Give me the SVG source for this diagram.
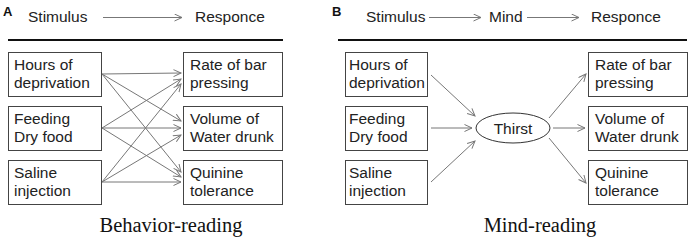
<svg xmlns="http://www.w3.org/2000/svg" width="697" height="246" viewBox="0 0 697 246">
<style>
.t{font-family:"Liberation Sans",Arial,sans-serif;font-size:15.5px;fill:#222}
.h{font-family:"Liberation Sans",Arial,sans-serif;font-size:15.5px;fill:#222}
.lab{font-family:"Liberation Sans",Arial,sans-serif;font-size:13px;font-weight:bold;fill:#111}
.cap{font-family:"Liberation Serif","Times New Roman",serif;font-size:20.5px;fill:#111;text-anchor:middle}
.box{fill:#fff;stroke:#444;stroke-width:1}
.c{stroke:#777;stroke-width:1;fill:none;marker-end:url(#ah)}
.rule{stroke:#111;stroke-width:2}
</style>
<defs>
<marker id="ah" markerWidth="10" markerHeight="10" refX="8" refY="4" orient="auto" markerUnits="userSpaceOnUse">
<path d="M0.5,0.5 L8,4 L0.5,7.5" fill="none" stroke="#777" stroke-width="1"/>
</marker>
</defs>
<rect width="697" height="246" fill="#fff"/>

<!-- Panel A header -->
<g id="headerA">
<text class="lab" x="3" y="16">A</text>
<text class="h" x="28" y="22">Stimulus</text>
<line class="c" x1="103" y1="17.5" x2="182" y2="17.5"/>
<text class="h" x="195" y="22">Responce</text>
<line class="rule" x1="8" y1="40" x2="283" y2="40"/>
</g>

<!-- Panel B header -->
<g id="headerB">
<text class="lab" x="332" y="16">B</text>
<text class="h" x="366" y="22">Stimulus</text>
<line class="c" x1="429" y1="17.5" x2="481" y2="17.5"/>
<text class="h" x="489" y="22">Mind</text>
<line class="c" x1="527" y1="17.5" x2="579" y2="17.5"/>
<text class="h" x="591" y="22">Responce</text>
<line class="rule" x1="338" y1="40" x2="687" y2="40"/>
</g>

<!-- Panel A nodes -->
<g id="a-hours"><rect class="box" x="8.5" y="52.5" width="93" height="44"/><text class="t" x="14" y="70">Hours of</text><text class="t" x="14" y="88">deprivation</text></g>
<g id="a-feeding"><rect class="box" x="8.5" y="106.5" width="93" height="44"/><text class="t" x="14" y="124">Feeding</text><text class="t" x="14" y="142">Dry food</text></g>
<g id="a-saline"><rect class="box" x="8.5" y="160.5" width="93" height="44"/><text class="t" x="14" y="178">Saline</text><text class="t" x="14" y="196">injection</text></g>
<g id="a-rate"><rect class="box" x="183.5" y="52.5" width="99" height="44"/><text class="t" x="190" y="70">Rate of bar</text><text class="t" x="190" y="88">pressing</text></g>
<g id="a-volume"><rect class="box" x="183.5" y="106.5" width="99" height="44"/><text class="t" x="190" y="124">Volume of</text><text class="t" x="190" y="142">Water drunk</text></g>
<g id="a-quinine"><rect class="box" x="183.5" y="160.5" width="99" height="44"/><text class="t" x="190" y="178">Quinine</text><text class="t" x="190" y="196">tolerance</text></g>

<!-- Panel B nodes -->
<g id="b-hours"><rect class="box" x="345.5" y="52.5" width="82" height="44"/><text class="t" x="349" y="70">Hours of</text><text class="t" x="349" y="88">deprivation</text></g>
<g id="b-feeding"><rect class="box" x="345.5" y="106.5" width="82" height="44"/><text class="t" x="349" y="124">Feeding</text><text class="t" x="349" y="142">Dry food</text></g>
<g id="b-saline"><rect class="box" x="345.5" y="160.5" width="82" height="44"/><text class="t" x="349" y="178">Saline</text><text class="t" x="349" y="196">injection</text></g>
<g id="b-thirst"><ellipse cx="513" cy="128" rx="37" ry="15" fill="#fff" stroke="#333" stroke-width="1"/><text class="t" x="513" y="134" text-anchor="middle">Thirst</text></g>
<g id="b-rate"><rect class="box" x="588.5" y="52.5" width="99" height="44"/><text class="t" x="595" y="70">Rate of bar</text><text class="t" x="595" y="88">pressing</text></g>
<g id="b-volume"><rect class="box" x="588.5" y="106.5" width="99" height="44"/><text class="t" x="595" y="124">Volume of</text><text class="t" x="595" y="142">Water drunk</text></g>
<g id="b-quinine"><rect class="box" x="588.5" y="160.5" width="99" height="44"/><text class="t" x="595" y="178">Quinine</text><text class="t" x="595" y="196">tolerance</text></g>

<!-- Connectors -->
<g id="connectors">
<line class="c" x1="102" y1="74" x2="181" y2="73"/>
<line class="c" x1="102" y1="74" x2="181" y2="121"/>
<line class="c" x1="102" y1="74" x2="181" y2="172"/>
<line class="c" x1="102" y1="128" x2="181" y2="79"/>
<line class="c" x1="102" y1="128" x2="181" y2="128"/>
<line class="c" x1="102" y1="128" x2="181" y2="177"/>
<line class="c" x1="102" y1="182" x2="181" y2="84"/>
<line class="c" x1="102" y1="182" x2="181" y2="135"/>
<line class="c" x1="102" y1="182" x2="181" y2="182"/>

<line class="c" x1="431" y1="75" x2="475" y2="116"/>
<line class="c" x1="431" y1="128" x2="472" y2="128"/>
<line class="c" x1="431" y1="182" x2="475" y2="141"/>
<line class="c" x1="549" y1="118" x2="586" y2="74"/>
<line class="c" x1="553" y1="128" x2="585" y2="128"/>
<line class="c" x1="549" y1="138" x2="586" y2="183"/>
</g>

<text class="cap" x="171" y="232">Behavior-reading</text>
<text class="cap" x="540" y="232">Mind-reading</text>
</svg>
